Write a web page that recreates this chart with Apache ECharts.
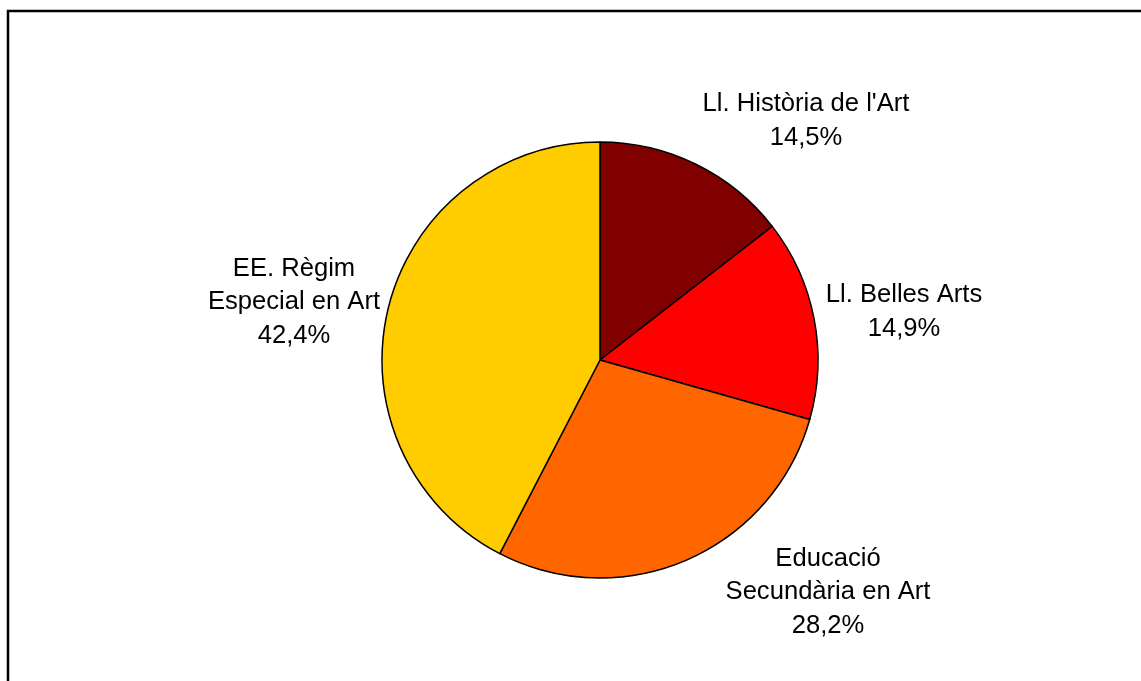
<!DOCTYPE html>
<html>
<head>
<meta charset="utf-8">
<script src="https://cdn.jsdelivr.net/npm/echarts@6/dist/echarts.min.js"></script>
<style>
html,body{margin:0;padding:0;background:#fff;}
#chart{width:1141px;height:681px;}
</style>
</head>
<body>
<div id="chart"></div>
<script>
const categories = ["Ll. Història de l'Art", "Ll. Belles Arts", "Educació\nSecundària en Art", "EE. Règim\nEspecial en Art"];
const values = [14.5, 14.9, 28.2, 42.4];
const colors = ["#800000", "#FF0000", "#FF6600", "#FFCC00"];
// label anchor positions (centre of each label block)
const labelPos = [[806, 121], [904, 312], [828, 592], [294, 302]];

const chart = echarts.init(document.getElementById('chart'), null, {renderer: 'canvas'});
chart.setOption({
  animation: false,
  backgroundColor: '#fff',
  graphic: [{
    type: 'rect',
    shape: {x: 8, y: 11, width: 1150, height: 690},
    style: {fill: 'none', stroke: '#000', lineWidth: 2.5},
    silent: true
  }],
  series: [{
    type: 'pie',
    center: [600, 360],
    radius: 218,
    startAngle: 90,
    clockwise: true,
    data: categories.map((c, i) => ({name: c, value: values[i], itemStyle: {color: colors[i]}})),
    itemStyle: {borderColor: '#000', borderWidth: 1.5},
    label: {
      show: true,
      position: 'outside',
      formatter: p => p.name + '\n' + p.value.toFixed(1).replace('.', ',') + '%',
      fontFamily: 'Liberation Sans, Arial, sans-serif',
      fontSize: 25.6,
      lineHeight: 33.5,
      color: '#000',
      align: 'center'
    },
    labelLine: {show: false},
    labelLayout: function (params) {
      const p = labelPos[params.dataIndex];
      return {x: p[0], y: p[1], align: 'center', verticalAlign: 'middle'};
    },
    emphasis: {disabled: true}
  }]
});
</script>
</body>
</html>
